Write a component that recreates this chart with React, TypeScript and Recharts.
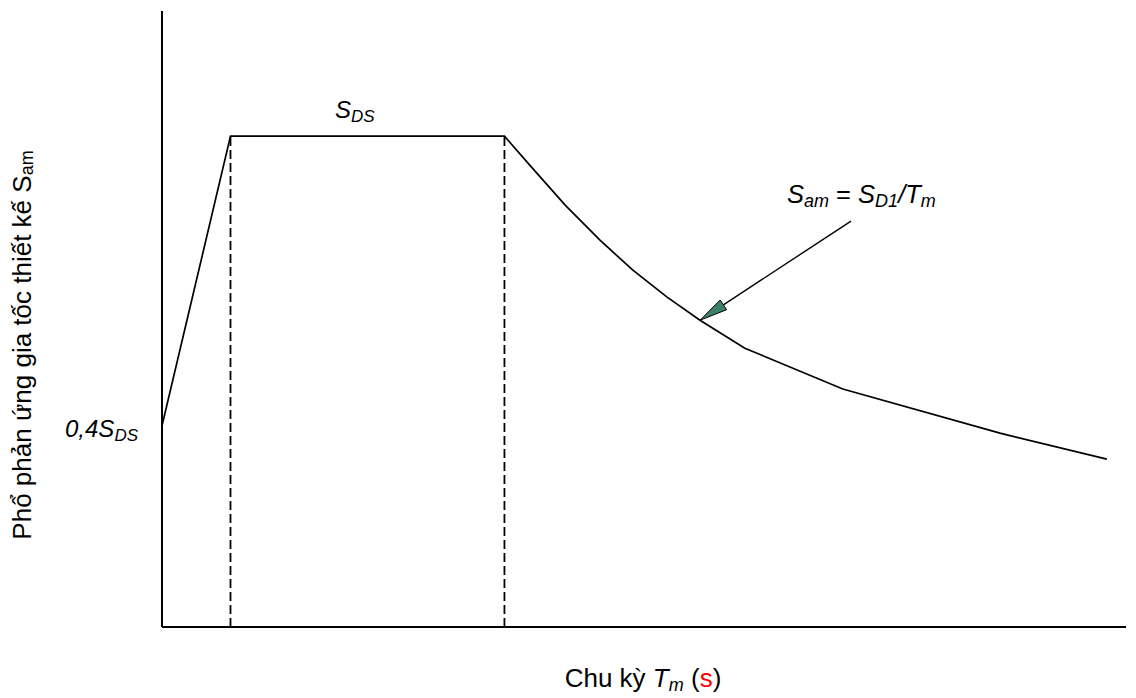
import React from 'react';
import { LineChart, Line, XAxis, YAxis, ReferenceLine, ReferenceDot, Label } from 'recharts';

// Spectrum data (period T in s, design acceleration in units of S_DS)
const periods = [0, 0.2, 1.0, 1.079, 1.178, 1.279, 1.375, 1.475, 1.571, 1.702, 1.988, 2.447, 2.759];
const accel = [0.41, 1.0, 1.0, 0.937, 0.859, 0.788, 0.727, 0.672, 0.625, 0.568, 0.485, 0.395, 0.342];

const T0 = 0.2;
const TS = 1.0;
const SDS = 1.0;
const S_START = 0.41;
const arrowTail = { T: 2.012, S: 0.827 };
const arrowTip = { T: 1.571, S: 0.625 };
const sdsLabelT = 0.505;

const xDomain = [0, 2.815];
const yDomain = [0, 1.255];

const data = periods.map((t, i) => ({ T: t, S: accel[i] }));

const FONT = '"Liberation Sans", Arial, sans-serif';
const FS = 24;
const SUB = 17;
const TFS = 26;
const TSUB = 18;

const ArrowShape = (p: any) => {
  let { x1, y1, x2, y2 } = p;
  if (x1 < x2) {
    [x1, x2] = [x2, x1];
    [y1, y2] = [y2, y1];
  }
  const dx = x1 - x2;
  const dy = y1 - y2;
  const len = Math.sqrt(dx * dx + dy * dy);
  const ux = dx / len;
  const uy = dy / len;
  const headLen = 28;
  const half = 5.8;
  const bx = x2 + ux * headLen;
  const by = y2 + uy * headLen;
  const px = -uy;
  const py = ux;
  const pts = `${x2},${y2} ${bx + px * half},${by + py * half} ${bx - px * half},${by - py * half}`;
  return (
    <g>
      <line x1={x1} y1={y1} x2={bx} y2={by} stroke="#000" strokeWidth={1.4} />
      <polygon points={pts} fill="#3e7f6c" stroke="#000" strokeWidth={1} strokeLinejoin="miter" />
    </g>
  );
};

const SdsText = (p: any) => (
  <text x={p.cx} y={p.cy - 18} fontFamily={FONT} fontSize={FS} fontStyle="italic" fill="#000">
    S<tspan fontSize={SUB} dy={4}>DS</tspan>
  </text>
);

const StartText = (p: any) => (
  <text x={p.cx - 24} y={p.cy + 11} textAnchor="end" fontFamily={FONT} fontSize={FS} fontStyle="italic" fill="#000">
    0,4S<tspan fontSize={SUB} dy={4}>DS</tspan>
  </text>
);

const SamText = (p: any) => (
  <text x={p.cx - 64} y={p.cy - 18} fontFamily={FONT} fontSize={25.5} fill="#000">
    <tspan fontStyle="italic">S</tspan>
    <tspan fontStyle="italic" fontSize={18} dy={4}>am</tspan>
    <tspan dy={-4}> = </tspan>
    <tspan fontStyle="italic">S</tspan>
    <tspan fontStyle="italic" fontSize={18} dy={4}>D1</tspan>
    <tspan fontStyle="italic" dy={-4}>/T</tspan>
    <tspan fontStyle="italic" fontSize={18} dy={4}>m</tspan>
  </text>
);

const YTitle = (p: any) => {
  const vb = p.viewBox || { x: 0, y: 0 };
  const x = vb.x + 23;
  const y = vb.y + 334;
  return (
    <text x={x} y={y} transform={`rotate(-90, ${x}, ${y})`} textAnchor="middle" fontFamily={FONT} fontSize={TFS} fill="#000">
      Phổ phản ứng gia tốc thiết kế S<tspan fontSize={TSUB} dy={2}>am</tspan>
    </text>
  );
};

const XTitle = (p: any) => {
  const vb = p.viewBox || { x: 0, y: 0, width: 0 };
  const x = vb.x + vb.width / 2 - 1;
  const y = vb.y + 60;
  return (
    <text x={x} y={y} textAnchor="middle" fontFamily={FONT} fontSize={TFS} fill="#000">
      Chu kỳ <tspan fontStyle="italic">T</tspan>
      <tspan fontStyle="italic" fontSize={TSUB} dy={4}>m</tspan>
      <tspan dy={-4}> (</tspan>
      <tspan fill="#ff0000">s</tspan>
      <tspan>)</tspan>
    </text>
  );
};

export default function App() {
  return (
    <LineChart width={1128} height={690} data={data} margin={{ top: 3, right: 10, left: 0, bottom: 0 }}>
      <XAxis
        dataKey="T"
        type="number"
        domain={xDomain}
        tick={false}
        tickLine={false}
        axisLine={{ stroke: '#000', strokeWidth: 2 }}
        height={71}
      >
        <Label content={XTitle} />
      </XAxis>
      <YAxis
        type="number"
        domain={yDomain}
        tick={false}
        tickLine={false}
        axisLine={{ stroke: '#000', strokeWidth: 2 }}
        width={154}
      >
        <Label content={YTitle} />
      </YAxis>
      <ReferenceLine
        segment={[{ x: T0, y: 0 }, { x: T0, y: SDS }]}
        stroke="#000"
        strokeWidth={1.8}
        strokeDasharray="9 4"
      />
      <ReferenceLine
        segment={[{ x: TS, y: 0 }, { x: TS, y: SDS }]}
        stroke="#000"
        strokeWidth={1.8}
        strokeDasharray="9 4"
      />
      <Line
        dataKey="S"
        type="linear"
        stroke="#000"
        strokeWidth={1.7}
        dot={false}
        isAnimationActive={false}
      />
      <ReferenceLine
        segment={[{ x: arrowTail.T, y: arrowTail.S }, { x: arrowTip.T, y: arrowTip.S }]}
        stroke="#000"
        shape={ArrowShape}
      />
      <ReferenceDot x={sdsLabelT} y={SDS} r={0} shape={SdsText} />
      <ReferenceDot x={0} y={S_START} r={0} shape={StartText} />
      <ReferenceDot x={arrowTail.T} y={arrowTail.S} r={0} shape={SamText} />
    </LineChart>
  );
}
